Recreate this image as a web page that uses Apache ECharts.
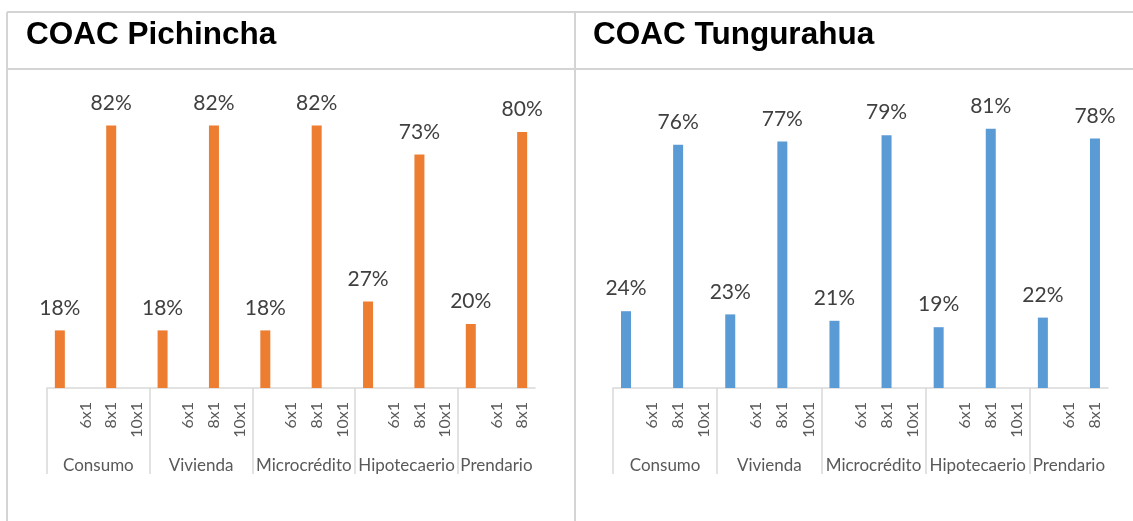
<!DOCTYPE html>
<html>
<head>
<meta charset="utf-8">
<script src="https://cdn.jsdelivr.net/npm/echarts@6/dist/echarts.min.js"></script>
<style>html,body{margin:0;padding:0;background:#fff}#c{width:1133px;height:521px}</style>
</head>
<body>
<div id="c"></div>
<script>
// ---- data ----
const titles = ['COAC Pichincha', 'COAC Tungurahua'];
const groups = ['Consumo', 'Vivienda', 'Microcrédito', 'Hipotecaerio', 'Prendario'];
const subLabels = ['', '6x1', '8x1', '10x1'];
const slotsPerGroup = [4, 4, 4, 4, 3];
const pichinchaFirst = [18, 18, 18, 27, 20];   // first slot (unlabelled)
const pichinchaEightByOne = [82, 82, 82, 73, 80]; // 8x1
const tungurahuaFirst = [24, 23, 21, 19, 22];
const tungurahuaEightByOne = [76, 77, 79, 81, 78];
const colors = ['#ED7D31', '#5B9BD5'];

// ---- build category slots ----
const categories = [];
const groupStarts = [];
const groupCenters = [];
let pos = 0;
slotsPerGroup.forEach((n, gi) => {
  groupStarts.push(pos);
  groupCenters.push(pos + n / 2);
  for (let k = 0; k < n; k++) categories.push(subLabels[k]);
  pos += n;
});
const totalSlots = pos;

function buildSeriesData(first, eight) {
  const d = new Array(totalSlots).fill('-');
  groupStarts.forEach((s, gi) => {
    d[s] = first[gi];
    d[s + 2] = eight[gi];
  });
  return d;
}
const seriesData = [
  buildSeriesData(pichinchaFirst, pichinchaEightByOne),
  buildSeriesData(tungurahuaFirst, tungurahuaEightByOne)
];

const FONT = 'Lato';
const grids = [
  { left: 47, width: 488, top: 100, bottom: 133 },
  { left: 613, width: 495, top: 100, bottom: 133 }
];

const xAxes = [], yAxes = [], series = [];
grids.forEach((g, i) => {
  xAxes.push({
    type: 'category', gridIndex: i, data: categories,
    axisLine: { lineStyle: { color: '#d9d9d9', width: 1.5 } },
    axisTick: { show: false },
    axisLabel: { interval: 0, rotate: 90, margin: 14, fontSize: 16, color: '#595959', fontFamily: FONT }
  });
  xAxes.push({
    type: 'value', gridIndex: i, min: 0, max: totalSlots, position: 'bottom',
    axisLine: { show: false }, splitLine: { show: false },
    axisTick: { show: true, customValues: groupStarts, length: 86, lineStyle: { color: '#d9d9d9', width: 1.5 } },
    axisLabel: {
      customValues: groupCenters, margin: 69, fontSize: 17, color: '#595959', fontFamily: FONT,
      formatter: v => { const idx = groupCenters.indexOf(v); return idx >= 0 ? groups[idx] : ''; }
    }
  });
  yAxes.push({ type: 'value', gridIndex: i, min: 0, max: 90, show: false });
  series.push({
    type: 'bar', xAxisIndex: i * 2, yAxisIndex: i, data: seriesData[i],
    barWidth: 10, itemStyle: { color: colors[i] },
    label: { show: true, position: 'top', distance: 12, formatter: '{c}%', fontSize: 21, color: '#404040', fontFamily: FONT },
    animation: false
  });
});

const borderStyle = { stroke: '#d4d4d4', lineWidth: 2 };
const chart = echarts.init(document.getElementById('c'), null, { renderer: 'canvas' });
chart.setOption({
  animation: false,
  title: titles.map((t, i) => ({
    text: t, left: i === 0 ? 21 : 588, top: 14,
    textStyle: { fontFamily: 'Liberation Sans', fontWeight: 'bold', fontSize: 31.5, color: '#000' }
  })),
  grid: grids,
  xAxis: xAxes,
  yAxis: yAxes,
  series: series,
  graphic: [
    { type: 'line', shape: { x1: 7, y1: 12, x2: 1133, y2: 12 }, style: borderStyle, silent: true },
    { type: 'line', shape: { x1: 7, y1: 69, x2: 1133, y2: 69 }, style: borderStyle, silent: true },
    { type: 'line', shape: { x1: 7, y1: 12, x2: 7, y2: 521 }, style: borderStyle, silent: true },
    { type: 'line', shape: { x1: 575, y1: 12, x2: 575, y2: 521 }, style: borderStyle, silent: true }
  ]
});
</script>
</body>
</html>
